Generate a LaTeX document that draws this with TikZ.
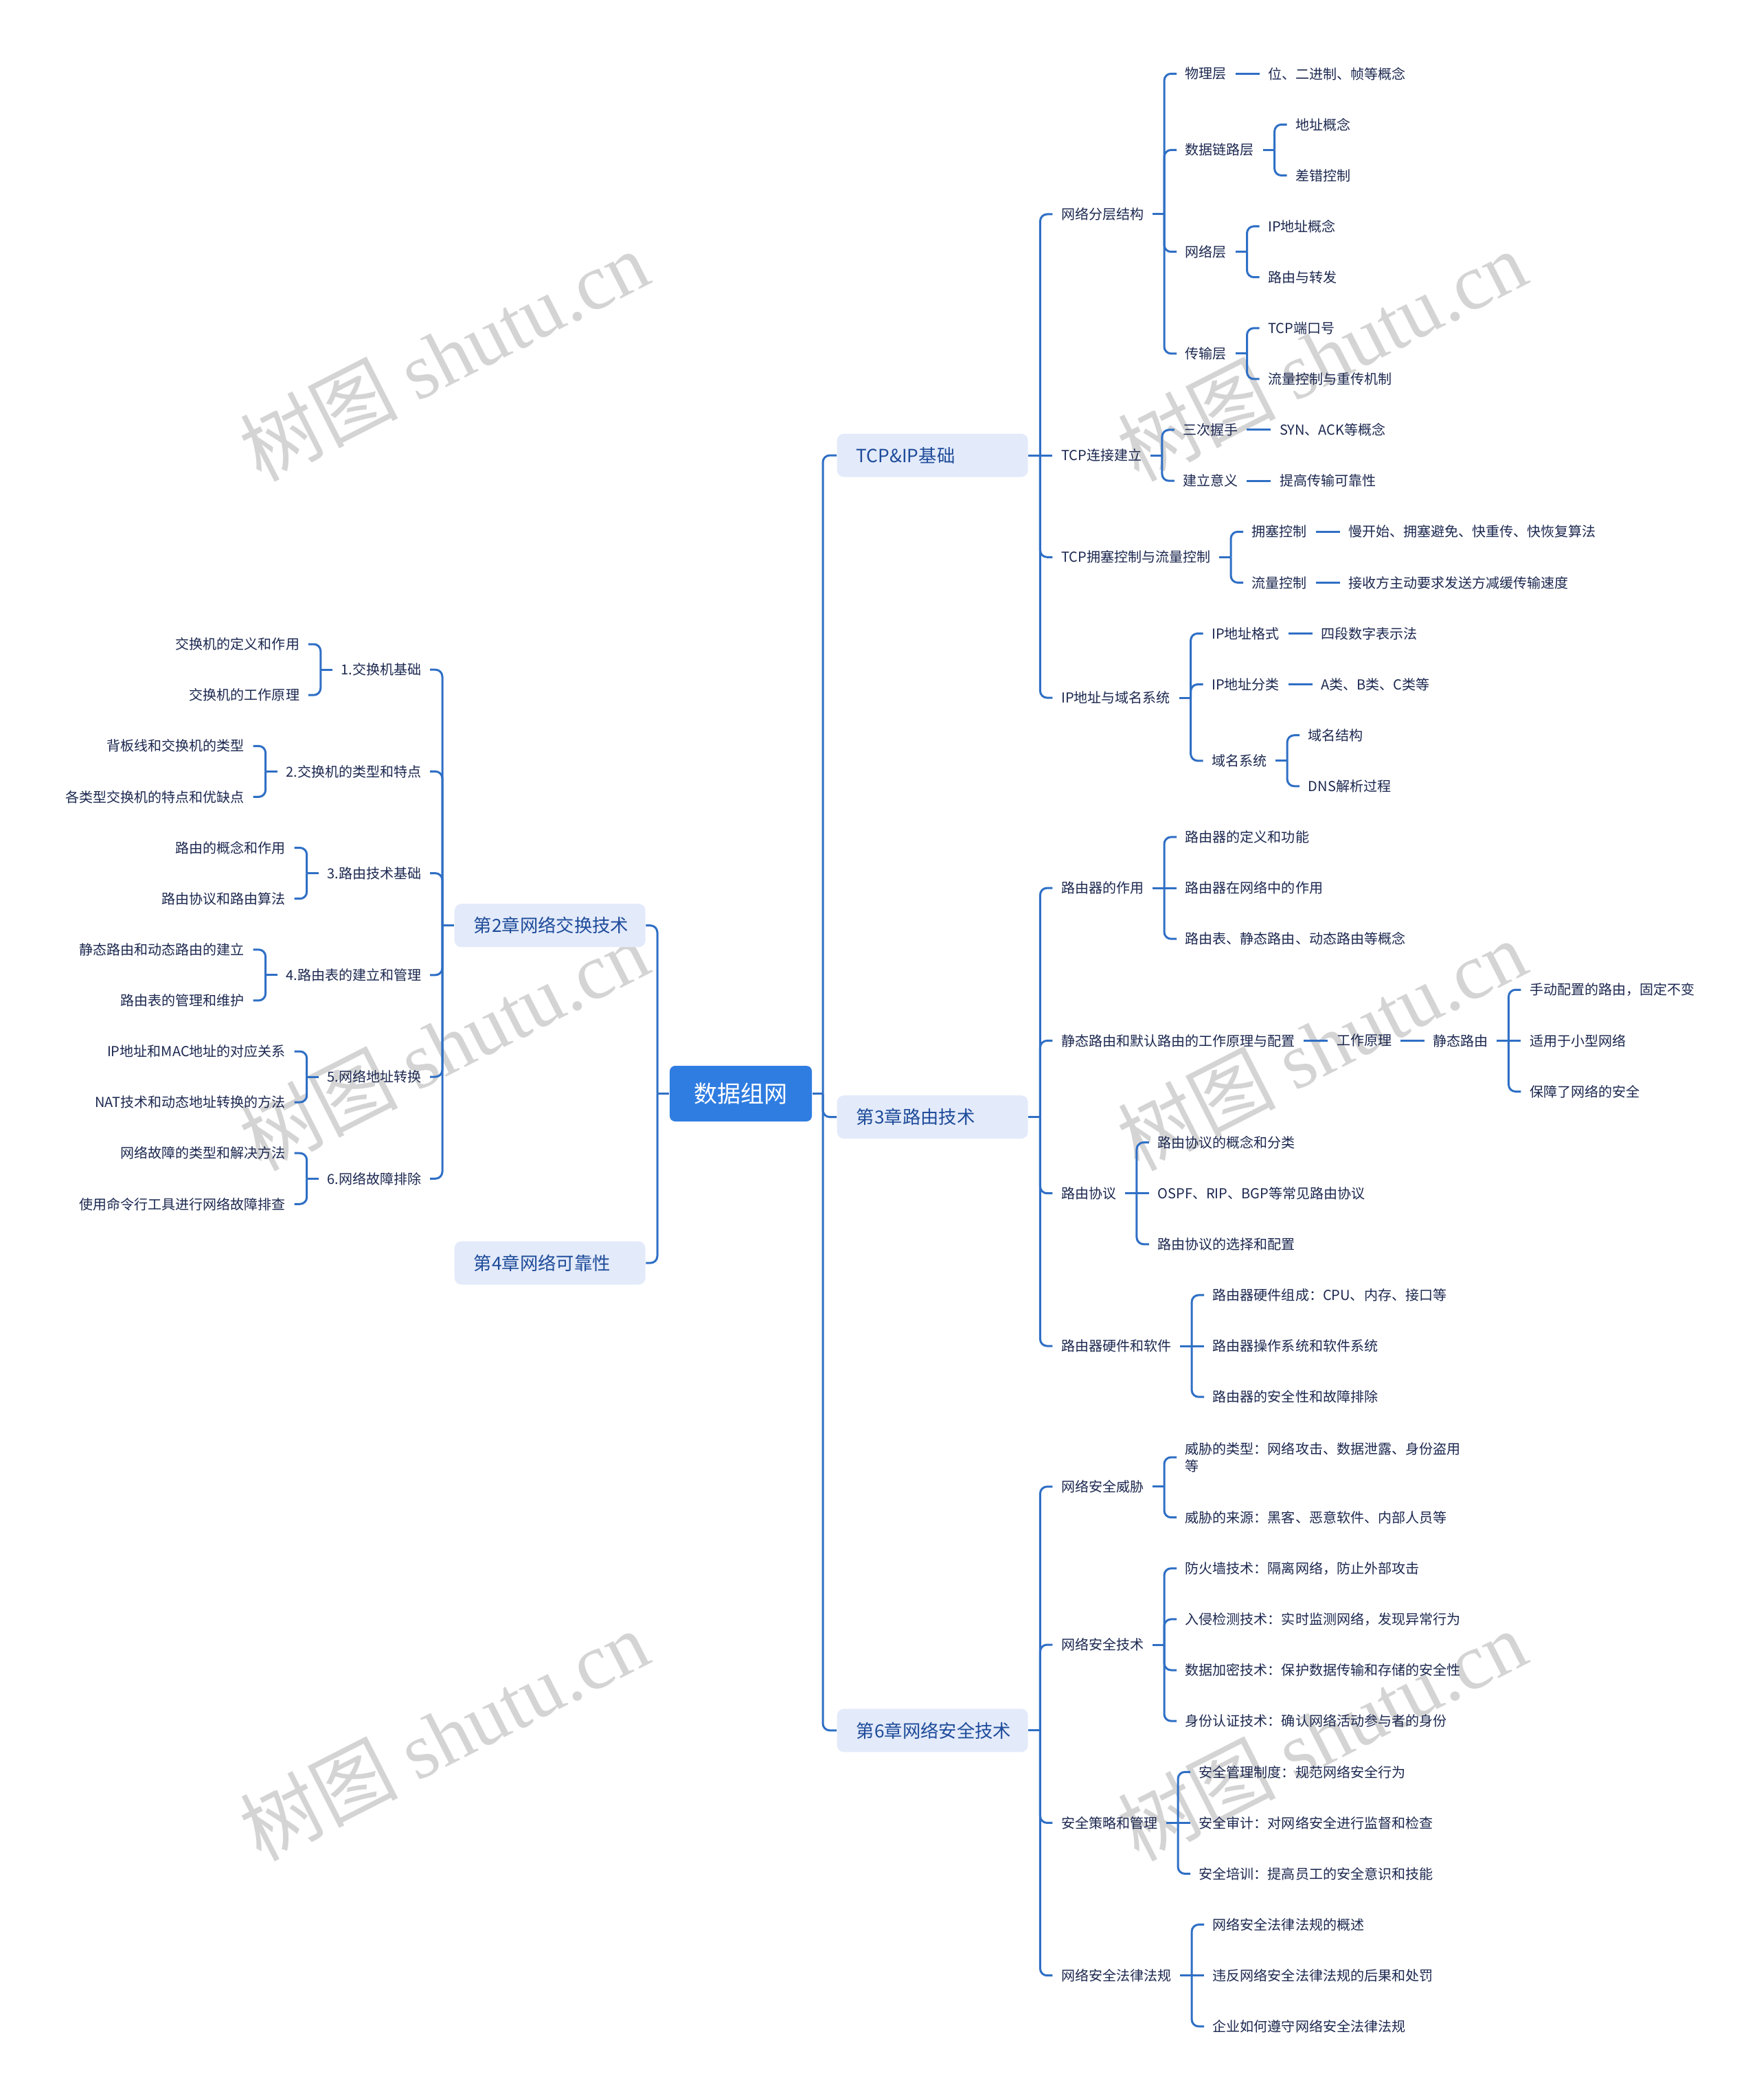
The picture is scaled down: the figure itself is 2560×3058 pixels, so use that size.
\documentclass[tikz,border=0pt]{standalone}
\usepackage{fontspec}
\setmainfont{Noto Sans CJK SC}
\newfontfamily\wmserif{Liberation Serif}
\usetikzlibrary{calc}
\definecolor{ln}{HTML}{2F6FC5}
\definecolor{rootc}{HTML}{2F7DE1}
\definecolor{chf}{HTML}{E3EAFA}
\definecolor{cht}{HTML}{1E4C9A}
\definecolor{lft}{HTML}{1C2850}
\definecolor{wmc}{HTML}{D4D4D4}
\tikzset{
  cn/.style={draw=ln, line width=0.3mm, rounded corners=1mm},
  lf/.style={font=\fontsize{5.7pt}{7.1pt}\selectfont, text=lft, inner xsep=1.2mm, inner ysep=0.4mm, align=left},
  chap/.style={fill=chf, rounded corners=1mm, text=cht, font=\fontsize{7.5pt}{9pt}\selectfont, text width=22.2mm, inner xsep=2.8mm, inner ysep=0pt, minimum height=6.3mm, align=left},
  rootbox/.style={fill=rootc, rounded corners=0.8mm, text=white, font=\fontsize{9.7pt}{11pt}\selectfont, minimum width=20.7mm, minimum height=8.1mm, inner sep=0pt},
  wmk/.style={text=wmc, font=\fontsize{32.8pt}{33pt}\selectfont, rotate=27, inner sep=0pt}
}
\newcommand\kidR[4]{\path let \p1=(#2.east) in node[lf,anchor=west] (#1) at (\x1+3.5mm,{-#3*0.1mm}) {#4};}
\newcommand\kidL[4]{\path let \p1=(#2.west) in node[lf,anchor=east] (#1) at (\x1-3.5mm,{-#3*0.1mm}) {#4};}
\newcommand\stubR[1]{\draw[cn] let \p1=(#1.east) in (\p1) -- (\x1+1.7mm,\y1);}
\newcommand\armR[2]{\draw[cn] let \p1=(#1.east), \p2=(#2.west) in (\x1+1.7mm,\y1) |- (\p2);}
\newcommand\lineR[2]{\draw[cn] (#1.east) -- (#2.west);}
\newcommand\stubL[1]{\draw[cn] let \p1=(#1.west) in (\p1) -- (\x1-1.7mm,\y1);}
\newcommand\armL[2]{\draw[cn] let \p1=(#1.west), \p2=(#2.east) in (\x1-1.7mm,\y1) |- (\p2);}
\begin{document}
\begin{tikzpicture}[x=0.1mm,y=-0.1mm]
\useasboundingbox (0,0) rectangle (2560,3058);
\fill[white] (0,0) rectangle (2560,3058);
% watermarks
\node[wmk] (w1) at (646,517) {树图 {\wmserif shutu.cn}};
\node[wmk] (w2) at (1924,517) {树图 {\wmserif shutu.cn}};
\node[wmk] (w3) at (646,1521) {树图 {\wmserif shutu.cn}};
\node[wmk] (w4) at (1924,1521) {树图 {\wmserif shutu.cn}};
\node[wmk] (w5) at (646,2526) {树图 {\wmserif shutu.cn}};
\node[wmk] (w6) at (1924,2526) {树图 {\wmserif shutu.cn}};

% root and chapters
\node[rootbox] (root) at (1078.5,1592.5) {数据组网};
\node[chap,anchor=west] (c1) at (1218,663.1) {TCP\&IP基础};
\node[chap,anchor=west] (c3) at (1218,1626.6) {第3章路由技术};
\node[chap,anchor=west] (c6) at (1218,2519.8) {第6章网络安全技术};
\node[chap,anchor=west] (c2) at (661,1347.7) {第2章网络交换技术};
\node[chap,anchor=west] (c4) at (661,1839.1) {第4章网络可靠性};
\coordinate (jr) at (1198,1592.5);
\coordinate (jl) at (957,1592.5);
\draw[cn] (root.east) -- (jr);
\draw[cn] (jr) |- (c1.west);
\draw[cn] (jr) |- (c3.west);
\draw[cn] (jr) |- (c6.west);
\draw[cn] (root.west) -- (jl);
\draw[cn] (jl) |- (c2.east);
\draw[cn] (jl) |- (c4.east);

% ===== TCP&IP =====
\kidR{a1}{c1}{312}{网络分层结构}
\kidR{a2}{c1}{663.1}{TCP连接建立}
\kidR{a3}{c1}{811.3}{TCP拥塞控制与流量控制}
\kidR{a4}{c1}{1016.1}{IP地址与域名系统}
\stubR{c1}\armR{c1}{a1}\lineR{c1}{a2}\armR{c1}{a3}\armR{c1}{a4}

\kidR{a11}{a1}{107.3}{物理层}
\kidR{a12}{a1}{218.4}{数据链路层}
\kidR{a13}{a1}{366.7}{网络层}
\kidR{a14}{a1}{514.9}{传输层}
\stubR{a1}\armR{a1}{a11}\armR{a1}{a12}\armR{a1}{a13}\armR{a1}{a14}

\kidR{a111}{a11}{107.3}{位、二进制、帧等概念}
\lineR{a11}{a111}
\kidR{a121}{a12}{181.4}{地址概念}
\kidR{a122}{a12}{255.5}{差错控制}
\stubR{a12}\armR{a12}{a121}\armR{a12}{a122}
\kidR{a131}{a13}{329.6}{IP地址概念}
\kidR{a132}{a13}{403.7}{路由与转发}
\stubR{a13}\armR{a13}{a131}\armR{a13}{a132}
\kidR{a141}{a14}{477.8}{TCP端口号}
\kidR{a142}{a14}{551.9}{流量控制与重传机制}
\stubR{a14}\armR{a14}{a141}\armR{a14}{a142}

\kidR{a21}{a2}{626}{三次握手}
\kidR{a22}{a2}{700.2}{建立意义}
\stubR{a2}\armR{a2}{a21}\armR{a2}{a22}
\kidR{a211}{a21}{626}{SYN、ACK等概念}
\lineR{a21}{a211}
\kidR{a221}{a22}{700.2}{提高传输可靠性}
\lineR{a22}{a221}

\kidR{a31}{a3}{774.3}{拥塞控制}
\kidR{a32}{a3}{848.4}{流量控制}
\stubR{a3}\armR{a3}{a31}\armR{a3}{a32}
\kidR{a311}{a31}{774.3}{慢开始、拥塞避免、快重传、快恢复算法}
\lineR{a31}{a311}
\kidR{a321}{a32}{848.4}{接收方主动要求发送方减缓传输速度}
\lineR{a32}{a321}

\kidR{a41}{a4}{922.5}{IP地址格式}
\kidR{a42}{a4}{996.6}{IP地址分类}
\kidR{a43}{a4}{1107.8}{域名系统}
\stubR{a4}\armR{a4}{a41}\armR{a4}{a42}\armR{a4}{a43}
\kidR{a411}{a41}{922.5}{四段数字表示法}
\lineR{a41}{a411}
\kidR{a421}{a42}{996.6}{A类、B类、C类等}
\lineR{a42}{a421}
\kidR{a431}{a43}{1070.7}{域名结构}
\kidR{a432}{a43}{1144.8}{DNS解析过程}
\stubR{a43}\armR{a43}{a431}\armR{a43}{a432}

% ===== Chapter 3 =====
\kidR{b1}{c3}{1293.1}{路由器的作用}
\kidR{b2}{c3}{1515.4}{静态路由和默认路由的工作原理与配置}
\kidR{b3}{c3}{1737.7}{路由协议}
\kidR{b4}{c3}{1960}{路由器硬件和软件}
\stubR{c3}\armR{c3}{b1}\armR{c3}{b2}\armR{c3}{b3}\armR{c3}{b4}

\kidR{b11}{b1}{1218.9}{路由器的定义和功能}
\kidR{b12}{b1}{1293.1}{路由器在网络中的作用}
\kidR{b13}{b1}{1367.2}{路由表、静态路由、动态路由等概念}
\stubR{b1}\armR{b1}{b11}\lineR{b1}{b12}\armR{b1}{b13}

\kidR{b21}{b2}{1515.4}{工作原理}
\lineR{b2}{b21}
\kidR{b211}{b21}{1515.4}{静态路由}
\lineR{b21}{b211}
\kidR{b2111}{b211}{1441.3}{手动配置的路由，固定不变}
\kidR{b2112}{b211}{1515.4}{适用于小型网络}
\kidR{b2113}{b211}{1589.5}{保障了网络的安全}
\stubR{b211}\armR{b211}{b2111}\lineR{b211}{b2112}\armR{b211}{b2113}

\kidR{b31}{b3}{1663.6}{路由协议的概念和分类}
\kidR{b32}{b3}{1737.7}{OSPF、RIP、BGP等常见路由协议}
\kidR{b33}{b3}{1811.8}{路由协议的选择和配置}
\stubR{b3}\armR{b3}{b31}\lineR{b3}{b32}\armR{b3}{b33}

\kidR{b41}{b4}{1885.9}{路由器硬件组成：CPU、内存、接口等}
\kidR{b42}{b4}{1960}{路由器操作系统和软件系统}
\kidR{b43}{b4}{2034.2}{路由器的安全性和故障排除}
\stubR{b4}\armR{b4}{b41}\lineR{b4}{b42}\armR{b4}{b43}

% ===== Chapter 6 =====
\kidR{d1}{c6}{2164.8}{网络安全威胁}
\kidR{d2}{c6}{2395}{网络安全技术}
\kidR{d3}{c6}{2654.4}{安全策略和管理}
\kidR{d4}{c6}{2876.7}{网络安全法律法规}
\stubR{c6}\armR{c6}{d1}\armR{c6}{d2}\armR{c6}{d3}\armR{c6}{d4}

\kidR{d11}{d1}{2122}{威胁的类型：网络攻击、数据泄露、身份盗用\\等}
\kidR{d12}{d1}{2209.7}{威胁的来源：黑客、恶意软件、内部人员等}
\stubR{d1}\armR{d1}{d11}\armR{d1}{d12}

\kidR{d21}{d2}{2283.8}{防火墙技术：隔离网络，防止外部攻击}
\kidR{d22}{d2}{2357.9}{入侵检测技术：实时监测网络，发现异常行为}
\kidR{d23}{d2}{2432}{数据加密技术：保护数据传输和存储的安全性}
\kidR{d24}{d2}{2506.1}{身份认证技术：确认网络活动参与者的身份}
\stubR{d2}\armR{d2}{d21}\armR{d2}{d22}\armR{d2}{d23}\armR{d2}{d24}

\kidR{d31}{d3}{2580.3}{安全管理制度：规范网络安全行为}
\kidR{d32}{d3}{2654.4}{安全审计：对网络安全进行监督和检查}
\kidR{d33}{d3}{2728.5}{安全培训：提高员工的安全意识和技能}
\stubR{d3}\armR{d3}{d31}\lineR{d3}{d32}\armR{d3}{d33}

\kidR{d41}{d4}{2802.6}{网络安全法律法规的概述}
\kidR{d42}{d4}{2876.7}{违反网络安全法律法规的后果和处罚}
\kidR{d43}{d4}{2950.8}{企业如何遵守网络安全法律法规}
\stubR{d4}\armR{d4}{d41}\lineR{d4}{d42}\armR{d4}{d43}

% ===== Chapter 2 (left) =====
\kidL{e1}{c2}{975.2}{1.交换机基础}
\kidL{e2}{c2}{1123.4}{2.交换机的类型和特点}
\kidL{e3}{c2}{1271.6}{3.路由技术基础}
\kidL{e4}{c2}{1419.8}{4.路由表的建立和管理}
\kidL{e5}{c2}{1568}{5.网络地址转换}
\kidL{e6}{c2}{1716.3}{6.网络故障排除}
\stubL{c2}\armL{c2}{e1}\armL{c2}{e2}\armL{c2}{e3}\armL{c2}{e4}\armL{c2}{e5}\armL{c2}{e6}

\kidL{e11}{e1}{938}{交换机的定义和作用}
\kidL{e12}{e1}{1012.2}{交换机的工作原理}
\stubL{e1}\armL{e1}{e11}\armL{e1}{e12}
\kidL{e21}{e2}{1086.3}{背板线和交换机的类型}
\kidL{e22}{e2}{1160.4}{各类型交换机的特点和优缺点}
\stubL{e2}\armL{e2}{e21}\armL{e2}{e22}
\kidL{e31}{e3}{1234.5}{路由的概念和作用}
\kidL{e32}{e3}{1308.7}{路由协议和路由算法}
\stubL{e3}\armL{e3}{e31}\armL{e3}{e32}
\kidL{e41}{e4}{1382.8}{静态路由和动态路由的建立}
\kidL{e42}{e4}{1456.9}{路由表的管理和维护}
\stubL{e4}\armL{e4}{e41}\armL{e4}{e42}
\kidL{e51}{e5}{1531}{IP地址和MAC地址的对应关系}
\kidL{e52}{e5}{1605.1}{NAT技术和动态地址转换的方法}
\stubL{e5}\armL{e5}{e51}\armL{e5}{e52}
\kidL{e61}{e6}{1679.2}{网络故障的类型和解决方法}
\kidL{e62}{e6}{1753.3}{使用命令行工具进行网络故障排查}
\stubL{e6}\armL{e6}{e61}\armL{e6}{e62}
\end{tikzpicture}
\end{document}
